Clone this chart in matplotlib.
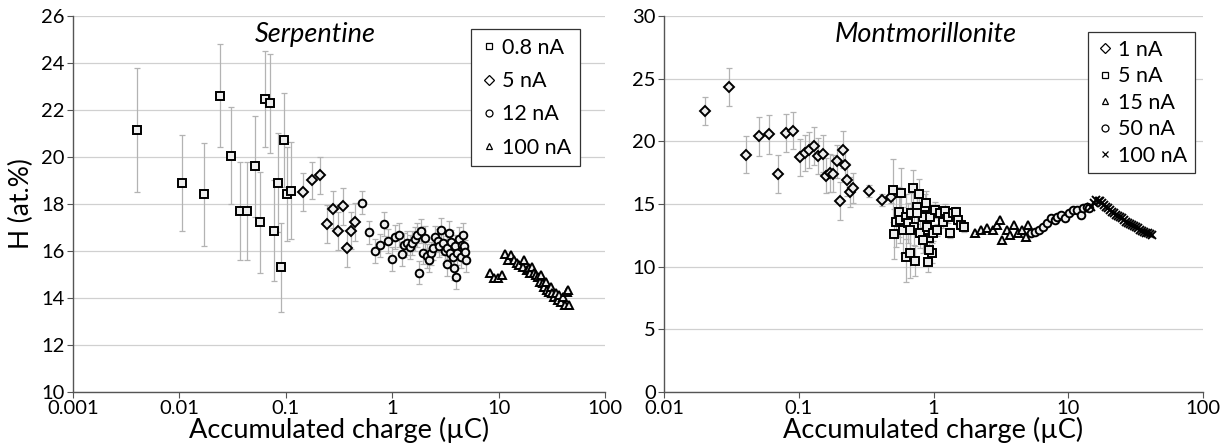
import numpy as np
import matplotlib
matplotlib.use("Agg")
import matplotlib.pyplot as plt

plt.rcParams['font.family'] = ['Lato', 'DejaVu Sans']

# ---- Serpentine data ----
serp_08_x = [0.004, 0.0106, 0.0171, 0.0239, 0.0307, 0.037, 0.0436, 0.0509, 0.0569,
             0.0641, 0.0705, 0.0768, 0.0837, 0.0904, 0.0969, 0.1037, 0.112]
serp_08_y = [21.15, 18.88, 18.41, 22.61, 20.06, 17.7, 17.7, 19.6, 17.22,
             22.48, 22.28, 16.87, 18.9, 15.3, 20.74, 18.41, 18.57]
serp_08_e = [2.65, 2.05, 2.2, 2.2, 2.05, 2.1, 2.1, 2.15, 2.15,
             2.05, 2.1, 2.15, 2.1, 1.9, 2.0, 2.0, 2.05]

serp_5_x = [0.1436, 0.178, 0.2095, 0.2426, 0.278, 0.311, 0.342, 0.379, 0.41, 0.446]
serp_5_y = [18.5, 19.0, 19.22, 17.15, 17.77, 16.85, 17.9, 16.11, 16.87, 17.23]
serp_5_e = [0.8, 0.8, 0.8, 0.8, 0.8, 0.8, 0.8, 0.8, 0.8, 0.8]

serp_12_x = [0.525, 0.6, 0.684, 0.77, 0.84, 0.92, 1.0, 1.06, 1.15, 1.23, 1.3, 1.37,
             1.47, 1.55, 1.64, 1.72, 1.79, 1.85, 1.95, 2.02, 2.14, 2.2, 2.32, 2.44,
             2.55, 2.67, 2.77, 2.88, 2.97, 3.15, 3.24, 3.3, 3.45, 3.5, 3.6, 3.7,
             3.85, 3.9, 4.0, 4.1, 4.2, 4.4, 4.5, 4.6, 4.75, 4.85, 4.9]
serp_12_y = [18.06, 16.79, 16.01, 16.24, 17.15, 16.43, 15.67, 16.6, 16.68, 15.87, 16.26, 16.35,
             16.18, 16.35, 16.52, 16.68, 15.08, 16.85, 15.93, 16.57, 15.79, 15.62, 15.9, 16.11,
             16.58, 16.44, 16.23, 16.89, 16.35, 16.0, 15.43, 16.14, 16.78, 15.9, 16.4, 15.76,
             15.26, 16.2, 14.9, 15.9, 16.5, 15.76, 16.26, 16.68, 16.2, 15.97, 15.62]
serp_12_e = [0.5, 0.5, 0.5, 0.5, 0.5, 0.5, 0.5, 0.5, 0.5, 0.5, 0.5, 0.5,
             0.5, 0.5, 0.5, 0.5, 0.5, 0.5, 0.5, 0.5, 0.5, 0.5, 0.5, 0.5,
             0.5, 0.5, 0.5, 0.5, 0.5, 0.5, 0.5, 0.5, 0.5, 0.5, 0.5, 0.5,
             0.5, 0.5, 0.5, 0.5, 0.5, 0.5, 0.5, 0.5, 0.5, 0.5, 0.5]

serp_100_x = [8.3, 9.1, 9.9, 10.8, 11.4, 12.3, 13.2, 13.9, 14.8, 15.7, 16.8, 17.5,
              18.3, 19.2, 19.9, 20.8, 21.6, 22.6, 23.6, 24.6, 25.2, 26.1, 27.0, 27.8,
              28.8, 29.8, 30.8, 31.8, 33.0, 34.3, 35.9, 37.3, 38.9, 40.5, 42.2, 44.0,
              45.0, 45.8]
serp_100_y = [15.05, 14.84, 14.84, 14.98, 15.87, 15.62, 15.83, 15.62, 15.48, 15.4, 15.33, 15.62,
              15.19, 15.26, 15.05, 15.33, 15.08, 14.98, 14.9, 14.7, 14.98, 14.62, 14.48, 14.7,
              14.34, 14.27, 14.48, 14.2, 14.06, 14.2, 13.91, 14.13, 13.85, 14.06, 13.7, 14.27,
              14.34, 13.7]

# ---- Montmorillonite data ----
mont_1_x = [0.0201, 0.0305, 0.0403, 0.0503, 0.0602, 0.0707, 0.0808, 0.091, 0.1014,
            0.1105, 0.1198, 0.1295, 0.1392, 0.1509, 0.1593, 0.1705, 0.1808, 0.1907,
            0.2011, 0.2114, 0.2198, 0.2287, 0.2418, 0.2536, 0.3298, 0.4116, 0.4867]
mont_1_y = [22.42, 24.34, 18.94, 20.4, 20.56, 17.39, 20.66, 20.85, 18.72,
            19.07, 19.31, 19.63, 18.83, 19.02, 17.26, 17.47, 17.42, 18.4,
            15.24, 19.34, 18.11, 16.94, 15.93, 16.3, 16.04, 15.32, 15.59]
mont_1_e = [1.1, 1.55, 1.5, 1.55, 1.55, 1.5, 1.55, 1.5, 1.5,
            1.4, 1.4, 1.5, 1.4, 1.5, 1.4, 1.5, 1.5, 1.3,
            1.5, 1.5, 1.3, 1.3, 1.2, 1.2, 0.5, 0.5, 0.5]

mont_5_x = [0.50, 0.57, 0.70, 0.78, 0.51, 0.53, 0.55, 0.63, 0.67, 0.73, 0.91, 0.97, 0.93,
            0.56, 0.59, 0.62, 0.65, 0.68, 0.72, 0.75, 0.79, 0.83, 0.86, 0.89, 0.92, 0.94,
            0.99, 1.02, 1.06, 1.11, 1.17, 1.22, 1.28, 1.33, 1.40, 1.47, 1.51, 1.59, 1.67,
            0.83, 0.88, 0.76, 0.67]
mont_5_y = [16.1, 15.85, 16.25, 15.77, 12.58, 13.6, 14.36, 10.8, 11.06, 10.45, 10.4, 11.06, 11.33,
            13.72, 12.93, 13.98, 13.45, 14.25, 13.2, 14.8, 12.66, 13.98, 14.8, 13.2, 12.26, 13.98,
            12.66, 14.52, 12.93, 14.25, 13.59, 14.47, 13.98, 12.66, 14.25, 14.39, 13.72, 13.32, 13.2,
            12.13, 15.05, 14.25, 12.93]
mont_5_e = [2.5, 2.0, 1.5, 1.2, 2.0, 2.0, 2.0, 2.0, 2.0, 1.2, 0.8, 0.8, 0.8,
            1.8, 1.8, 1.8, 1.6, 1.6, 1.5, 1.4, 1.2, 1.0, 1.0, 0.8, 0.8, 0.8,
            0.6, 0.6, 0.5, 0.5, 0.5, 0.5, 0.5, 0.4, 0.4, 0.4, 0.4, 0.4, 0.4,
            1.0, 1.0, 1.2, 1.6]

mont_15_x = [2.04, 2.25, 2.5, 2.75, 2.95, 3.1, 3.25, 3.5, 3.72, 3.98, 4.25, 4.55, 4.86, 5.0]
mont_15_y = [12.66, 12.93, 13.06, 12.93, 13.32, 13.72, 12.13, 12.93, 12.53, 13.32, 12.66, 12.93, 12.4, 13.32]

mont_50_x = [5.3, 5.7, 6.1, 6.5, 7.0, 7.5, 8.0, 8.3, 8.9, 9.5, 10.2, 10.9, 11.6, 12.4, 12.8, 13.7, 14.2]
mont_50_y = [12.66, 12.8, 12.93, 13.2, 13.45, 13.85, 13.72, 13.98, 14.12, 13.85, 14.25, 14.52,
             14.52, 14.12, 14.65, 14.8, 14.65]

mont_100_x = [14.7, 15.5, 16.2, 16.8, 17.3, 17.9, 18.5, 19.1, 19.8, 20.5, 21.3, 22.0, 22.7,
              23.5, 24.3, 25.1, 26.0, 26.9, 27.9, 28.9, 29.9, 30.9, 32.0, 33.1, 34.2,
              35.4, 36.6, 37.8, 39.1, 40.5, 41.9]
mont_100_y = [14.8, 15.1, 15.3, 15.25, 15.2, 15.05, 14.92, 14.8, 14.65, 14.55, 14.39, 14.25, 14.12,
              14.05, 13.94, 13.85, 13.72, 13.6, 13.5, 13.42, 13.32, 13.22, 13.14, 13.05, 12.93,
              12.87, 12.8, 12.72, 12.66, 12.6, 12.53]

ecol = '#b3b3b3'
grid_col = '#d0d0d0'
ms = 5.5
mew = 1.4


def plot_series(ax, x, y, marker, label, yerr=None, size=ms):
    if yerr is not None:
        ax.errorbar(x, y, yerr=yerr, fmt='none', ecolor=ecol, elinewidth=0.9,
                    capsize=2.5, capthick=0.9, zorder=2)
    ax.plot(x, y, linestyle='none', marker=marker, markersize=size, mfc='#eeeeee',
            mec='black', mew=mew, zorder=3)
    # legend handle with smaller marker
    ax.plot([], [], linestyle='none', marker=marker, markersize=5, mfc='white',
            mec='black', mew=0.9, label=label)


def style_axes(ax):
    ax.set_xscale('log')
    ax.grid(axis='y', color=grid_col, linewidth=0.9)
    ax.set_axisbelow(True)
    for s in ['top', 'right']:
        ax.spines[s].set_visible(False)
    for s in ['left', 'bottom']:
        ax.spines[s].set_color('#555555')
        ax.spines[s].set_linewidth(1.0)
    ax.tick_params(axis='both', which='major', labelsize=14.5, length=4, color='#555555',
                   direction='out', pad=2)
    ax.tick_params(axis='x', which='minor', length=0)
    ax.xaxis.set_major_formatter(matplotlib.ticker.FuncFormatter(lambda v, p: '%g' % v))
    ax.set_xlabel('Accumulated charge (µC)', fontsize=19.5, labelpad=0)


fig = plt.figure(figsize=(12.23, 4.48), dpi=100)
ax1 = fig.add_axes([73 / 1223, 56 / 448, 532 / 1223, 376 / 448])
ax2 = fig.add_axes([664 / 1223, 56 / 448, 539 / 1223, 376 / 448])

# Serpentine
plot_series(ax1, serp_08_x, serp_08_y, 's', '0.8 nA', serp_08_e)
plot_series(ax1, serp_5_x, serp_5_y, 'D', '5 nA', serp_5_e, size=4.8)
plot_series(ax1, serp_12_x, serp_12_y, 'o', '12 nA', serp_12_e)
plot_series(ax1, serp_100_x, serp_100_y, '^', '100 nA')
style_axes(ax1)
ax1.set_xlim(0.001, 100)
ax1.set_ylim(10, 26)
ax1.set_yticks(np.arange(10, 27, 2))
ax1.set_ylabel('H (at.%)', fontsize=19)
ax1.yaxis.set_label_coords(-0.074, 0.5)
ax1.text(0.455, 0.95, 'Serpentine', transform=ax1.transAxes, ha='center', va='center',
         fontsize=19.5, style='italic')
leg1 = ax1.legend(loc='upper right', bbox_to_anchor=(0.953, 0.965), fontsize=15.5,
                  handletextpad=0.15, handlelength=0.9, borderpad=0.4, labelspacing=0.62,
                  borderaxespad=0, fancybox=False, edgecolor='#333333', framealpha=1)
leg1.get_frame().set_linewidth(0.9)

# Montmorillonite
plot_series(ax2, mont_1_x, mont_1_y, 'D', '1 nA', mont_1_e, size=4.8)
plot_series(ax2, mont_5_x, mont_5_y, 's', '5 nA', mont_5_e)
plot_series(ax2, mont_15_x, mont_15_y, '^', '15 nA')
plot_series(ax2, mont_50_x, mont_50_y, 'o', '50 nA')
plot_series(ax2, mont_100_x, mont_100_y, 'x', '100 nA')
style_axes(ax2)
ax2.set_xlim(0.01, 100)
ax2.set_ylim(0, 30)
ax2.set_yticks(np.arange(0, 31, 5))
ax2.text(0.486, 0.95, 'Montmorillonite', transform=ax2.transAxes, ha='center', va='center',
         fontsize=19.5, style='italic')
leg2 = ax2.legend(loc='upper right', bbox_to_anchor=(0.985, 0.957), fontsize=15.5,
                  handletextpad=0.15, handlelength=0.9, borderpad=0.35, labelspacing=0.3,
                  borderaxespad=0, fancybox=False, edgecolor='#333333', framealpha=1)
leg2.get_frame().set_linewidth(0.9)

fig.savefig('out.png', dpi=100)
